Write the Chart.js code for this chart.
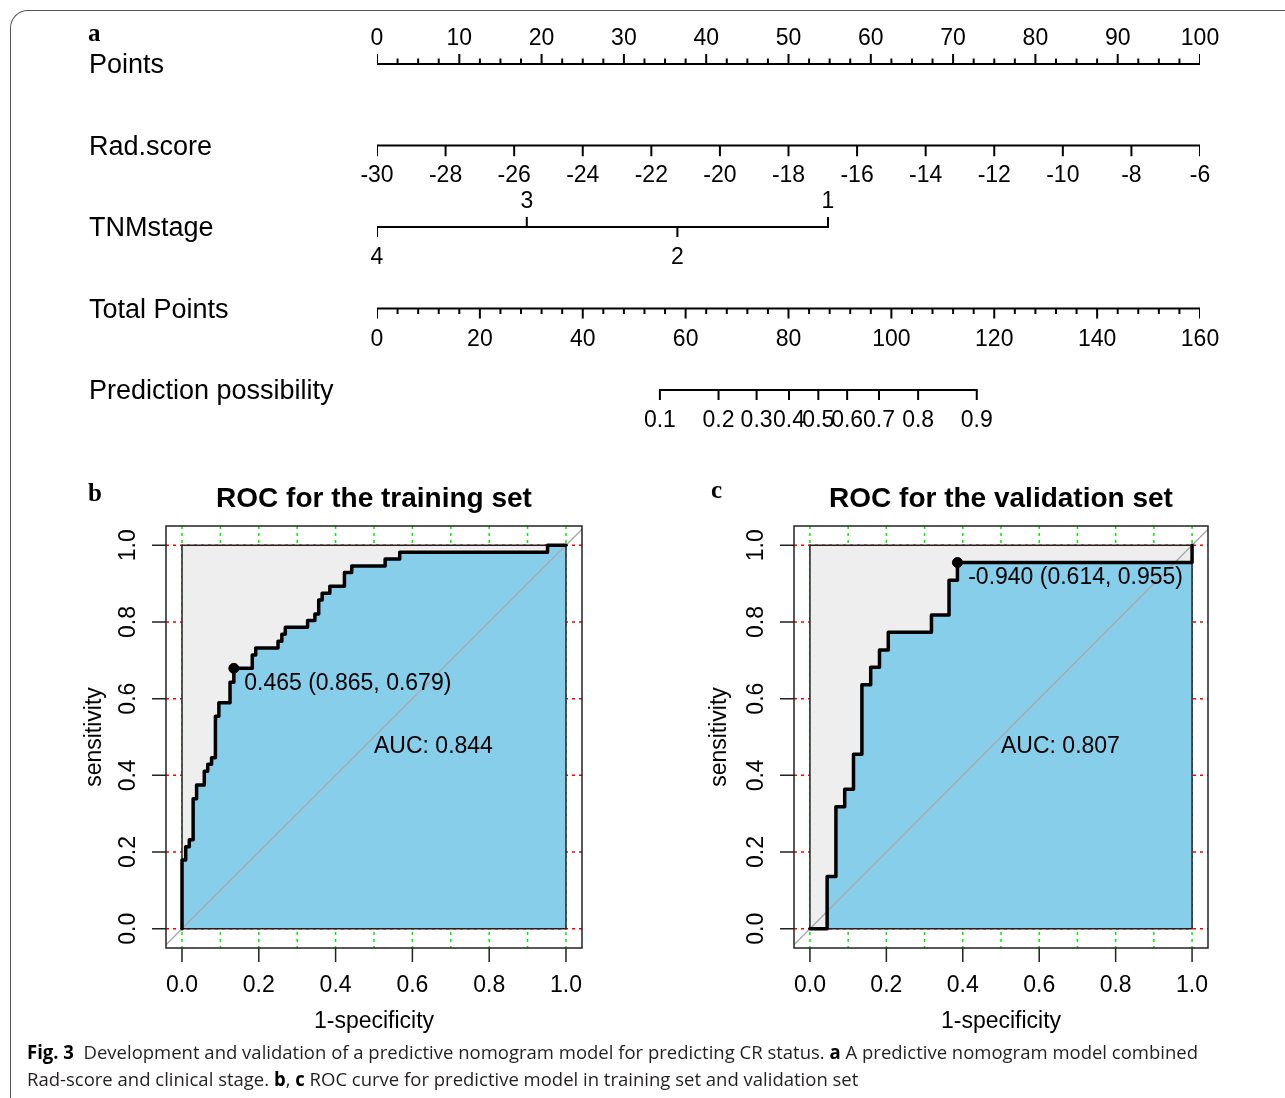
<!DOCTYPE html>
<html>
<head>
<meta charset="utf-8">
<script src="https://cdn.jsdelivr.net/npm/chart.js@4.4.1/dist/chart.umd.min.js"></script>
<style>
  html, body { margin: 0; padding: 0; background: #fff; }
  body { width: 1285px; height: 1098px; position: relative; overflow: hidden; }
  .frame { position: absolute; left: 10px; top: 10px; width: 1300px; height: 1200px;
    border-left: 1px solid #555; border-top: 1px solid #555; border-top-left-radius: 18px; }
  canvas { position: absolute; }
  #nomo { left: 0; top: 0; }
  #rocB { left: 60px; top: 460px; }
  #rocC { left: 690px; top: 460px; }
  .letter { position: absolute; font-family: "Liberation Serif", "DejaVu Serif", serif;
    font-weight: bold; font-size: 25px; line-height: 25px; color: #000; }
  .caption { position: absolute; left: 27px; top: 1039px; font-family: "Liberation Sans Narrow", "Open Sans", sans-serif;
    font-size: 19px; line-height: 27px; color: #231f20; white-space: nowrap; transform-origin: 0 0; }
  .caption b { color: #000; }
</style>
</head>
<body>
<div class="frame"></div>
<canvas id="nomo" width="1285" height="460"></canvas>
<canvas id="rocB" width="560" height="580"></canvas>
<canvas id="rocC" width="590" height="580"></canvas>
<div class="letter" style="left:88px;top:20px">a</div>
<div class="letter" style="left:88px;top:480px">b</div>
<div class="letter" style="left:711px;top:477px">c</div>
<div class="caption" id="cap"><span id="capLine1"><b>Fig. 3</b>&nbsp; Development and validation of a predictive nomogram model for predicting CR status. <b>a</b> A predictive nomogram model combined</span><br>Rad-score and clinical stage. <b>b</b>, <b>c</b> ROC curve for predictive model in training set and validation set</div>
<script>
// ---- nomogram (panel a) ----
const rowNames = ['Points', 'Rad.score', 'TNMstage', 'Total Points', 'Prediction possibility'];
const pointsTicks = [0, 10, 20, 30, 40, 50, 60, 70, 80, 90, 100];
const radTicks = [-30, -28, -26, -24, -22, -20, -18, -16, -14, -12, -10, -8, -6];
const radEnds = [-30, -6];            // rad.score values at 0 and 100 points
const tnmStages = ['4', '3', '2', '1'];
const tnmPoints = [0, 18.2, 36.5, 54.8];
const tnmAbove = [false, true, false, true];
const totalTicks = [0, 20, 40, 60, 80, 100, 120, 140, 160];
const totalMax = 160;
const probTicks = ['0.1', '0.2', '0.3', '0.4', '0.5', '0.6', '0.7', '0.8', '0.9'];
const probTotalPoints = [55.0, 66.4, 73.8, 80.1, 85.8, 91.4, 97.6, 105.2, 116.6];

// ---- ROC curves (panels b, c): x = 1-specificity where sensitivity steps up ----
const trainFpr = [0, 0.0096, 0.019, 0.029, 0.038, 0.058, 0.067, 0.077, 0.087, 0.096, 0.125, 0.135, 0.183,
  0.192, 0.250, 0.260, 0.269, 0.327, 0.346, 0.356, 0.365, 0.385, 0.423, 0.442, 0.529, 0.567, 0.952];
const trainTpr = [0.179, 0.214, 0.232, 0.339, 0.375, 0.411, 0.429, 0.446, 0.554, 0.589, 0.643, 0.679, 0.714,
  0.732, 0.750, 0.768, 0.786, 0.804, 0.821, 0.857, 0.875, 0.893, 0.929, 0.946, 0.964, 0.982, 1.000];
const validFpr = [0.045, 0.068, 0.091, 0.114, 0.136, 0.159, 0.182, 0.205, 0.318, 0.364, 0.386, 1.000];
const validTpr = [0.136, 0.318, 0.364, 0.455, 0.636, 0.682, 0.727, 0.773, 0.818, 0.909, 0.955, 1.000];
const trainThres = { cut: '0.465', spec: 0.865, sens: 0.679 };
const validThres = { cut: '-0.940', spec: 0.614, sens: 0.955 };
const trainAuc = '0.844';
const validAuc = '0.807';
const rocXTicks = [0, 0.2, 0.4, 0.6, 0.8, 1.0];
const rocYTicks = [0, 0.2, 0.4, 0.6, 0.8, 1.0];
const rocXGrid = [0, 0.1, 0.2, 0.3, 0.4, 0.5, 0.6, 0.7, 0.8, 0.9, 1.0];

const FONT = '"Liberation Sans", Arial, sans-serif';
const DY = 2; // canvas 'middle' baseline sits a little high
Chart.defaults.font.family = FONT;
Chart.defaults.color = '#000';

// build one nomogram row: axis line plus tick segments, separated by gaps
const MAJOR = 0.11, MINOR = 0.055;
function buildRow(row, ticks) {
  const ps = ticks.map(t => t.p);
  const data = [{ x: Math.min(...ps), y: row }, { x: Math.max(...ps), y: row }, { x: 0, y: null }];
  ticks.forEach(t => {
    data.push({ x: t.p, y: row }, { x: t.p, y: row + t.dir * t.len }, { x: t.p, y: null });
  });
  return data;
}

const rows = [];
// Points
{
  const ticks = [], labels = [];
  pointsTicks.forEach((v, i) => {
    ticks.push({ p: v, len: MAJOR, dir: -1 });
    labels.push({ p: v, text: String(v), off: -27 });
    if (i < pointsTicks.length - 1) {
      const step = (pointsTicks[i + 1] - v) / 4;
      for (let k = 1; k < 4; k++) ticks.push({ p: v + k * step, len: MINOR, dir: -1 });
    }
  });
  rows.push({ ticks, labels });
}
// Rad.score
{
  const toP = v => (v - radEnds[0]) / (radEnds[1] - radEnds[0]) * 100;
  rows.push({
    ticks: radTicks.map(v => ({ p: toP(v), len: 0.12, dir: 1 })),
    labels: radTicks.map(v => ({ p: toP(v), text: String(v), off: 28.5 }))
  });
}
// TNMstage
rows.push({
  ticks: tnmPoints.map((p, i) => ({ p, len: MAJOR, dir: tnmAbove[i] ? -1 : 1 })),
  labels: tnmPoints.map((p, i) => ({ p, text: tnmStages[i], off: tnmAbove[i] ? -27 : 29 }))
});
// Total Points
{
  const ticks = [], labels = [];
  totalTicks.forEach((v, i) => {
    ticks.push({ p: v / totalMax * 100, len: MAJOR, dir: 1 });
    labels.push({ p: v / totalMax * 100, text: String(v), off: 29 });
    if (i < totalTicks.length - 1) {
      const step = (totalTicks[i + 1] - v) / 5;
      for (let k = 1; k < 5; k++) ticks.push({ p: (v + k * step) / totalMax * 100, len: MINOR, dir: 1 });
    }
  });
  rows.push({ ticks, labels });
}
// Prediction possibility
rows.push({
  ticks: probTotalPoints.map(v => ({ p: v / totalMax * 100, len: MAJOR, dir: 1 })),
  labels: probTotalPoints.map((v, i) => ({ p: v / totalMax * 100, text: probTicks[i], off: 29 }))
});

const nomoLabels = {
  id: 'nomoLabels',
  afterDatasetsDraw(chart) {
    const { ctx, scales: { x, y } } = chart;
    ctx.save();
    ctx.fillStyle = '#000';
    ctx.textBaseline = 'middle';
    rowNames.forEach((name, r) => {
      ctx.font = '27px ' + FONT;
      ctx.textAlign = 'left';
      ctx.fillText(name, 89, y.getPixelForValue(r) + DY);
      ctx.font = '23px ' + FONT;
      ctx.textAlign = 'center';
      rows[r].labels.forEach(l => {
        ctx.fillText(l.text, x.getPixelForValue(l.p), y.getPixelForValue(r) + l.off + DY);
      });
    });
    ctx.restore();
  }
};

new Chart(document.getElementById('nomo'), {
  type: 'scatter',
  data: {
    datasets: rows.map((r, i) => ({
      data: buildRow(i, r.ticks),
      showLine: true,
      spanGaps: false,
      borderColor: '#000',
      borderWidth: 2,
      pointRadius: 0,
      borderCapStyle: 'square'
    }))
  },
  options: {
    responsive: false,
    animation: false,
    layout: { padding: { left: 377, right: 85, top: 23.25, bottom: 29.25 } },
    plugins: { legend: { display: false }, tooltip: { enabled: false } },
    scales: {
      x: { type: 'linear', min: 0, max: 100, display: false },
      y: { type: 'linear', min: -0.5, max: 4.5, reverse: true, display: false }
    }
  },
  plugins: [nomoLabels]
});

// ---- ROC panels ----
function stepCurve(fpr, tpr) {
  const pts = [{ x: 0, y: 0 }];
  let prev = 0;
  fpr.forEach((fx, i) => {
    pts.push({ x: fx, y: prev }, { x: fx, y: tpr[i] });
    prev = tpr[i];
  });
  const last = pts[pts.length - 1];
  if (last.x < 1) pts.push({ x: 1, y: prev });
  return pts;
}

const rocDecor = {
  id: 'rocDecor',
  beforeDatasetsDraw(chart) {
    const { ctx, chartArea: a, scales: { x, y } } = chart;
    ctx.save();
    ctx.lineWidth = 1.5;
    ctx.setLineDash([3, 4]);
    ctx.strokeStyle = '#ff0000';
    rocYTicks.forEach(v => {
      const py = y.getPixelForValue(v);
      ctx.beginPath(); ctx.moveTo(a.left, py); ctx.lineTo(a.right, py); ctx.stroke();
    });
    ctx.strokeStyle = '#00ee00';
    rocXGrid.forEach(v => {
      const px = x.getPixelForValue(v);
      ctx.beginPath(); ctx.moveTo(px, a.top); ctx.lineTo(px, a.bottom); ctx.stroke();
    });
    ctx.restore();
  },
  afterDatasetsDraw(chart, args, opts) {
    const { ctx, chartArea: a, scales: { x, y } } = chart;
    ctx.save();
    // box and ticks
    ctx.strokeStyle = '#222';
    ctx.lineWidth = 1.5;
    ctx.strokeRect(a.left, a.top, a.right - a.left, a.bottom - a.top);
    ctx.beginPath();
    rocYTicks.forEach(v => {
      const py = y.getPixelForValue(v);
      ctx.moveTo(a.left, py); ctx.lineTo(a.left - 14, py);
    });
    rocXTicks.forEach(v => {
      const px = x.getPixelForValue(v);
      ctx.moveTo(px, a.bottom); ctx.lineTo(px, a.bottom + 14);
    });
    ctx.stroke();

    ctx.fillStyle = '#000';
    ctx.textBaseline = 'middle';
    ctx.font = '23px ' + FONT;
    ctx.textAlign = 'center';
    rocXTicks.forEach(v => ctx.fillText(v.toFixed(1), x.getPixelForValue(v), a.bottom + 36 + DY));
    ctx.fillText('1-specificity', (a.left + a.right) / 2, a.bottom + 72 + DY);
    rocYTicks.forEach(v => {
      ctx.save();
      ctx.translate(a.left - 35 - DY, y.getPixelForValue(v));
      ctx.rotate(-Math.PI / 2);
      ctx.fillText(v.toFixed(1), 0, 0);
      ctx.restore();
    });
    ctx.save();
    ctx.translate(a.left - opts.yTitleOffset - DY, (a.top + a.bottom) / 2);
    ctx.rotate(-Math.PI / 2);
    ctx.fillText('sensitivity', 0, 0);
    ctx.restore();

    // title
    ctx.font = 'bold 28px ' + FONT;
    ctx.fillText(opts.title, (a.left + a.right) / 2, a.top - 29 + DY);

    // AUC and threshold text
    ctx.font = '23px ' + FONT;
    ctx.textAlign = 'left';
    ctx.fillText('AUC: ' + opts.auc, x.getPixelForValue(0.5), y.getPixelForValue(0.5) + 8 + DY);
    const t = opts.thres;
    const label = t.cut + ' (' + t.spec.toFixed(3) + ', ' + t.sens.toFixed(3) + ')';
    const w = ctx.measureText(label).width;
    ctx.fillText(label, x.getPixelForValue(1 - t.spec) + 0.05 * w, y.getPixelForValue(t.sens) + 13 + DY);
    ctx.restore();
  }
};

function makeRoc(id, fpr, tpr, thres, auc, title, pad, yTitleOffset) {
  const curve = stepCurve(fpr, tpr);
  return new Chart(document.getElementById(id), {
    type: 'scatter',
    data: {
      datasets: [
        { // threshold point
          data: [{ x: 1 - thres.spec, y: thres.sens }],
          pointRadius: 5, pointBackgroundColor: '#000', pointBorderColor: '#000', order: 1
        },
        { // ROC curve
          data: curve, showLine: true, borderColor: '#000', borderWidth: 3.5, pointRadius: 0,
          borderJoinStyle: 'round', borderCapStyle: 'round', order: 2
        },
        { // identity line
          data: [{ x: -0.1, y: -0.1 }, { x: 1.1, y: 1.1 }], showLine: true,
          borderColor: '#aaaaaa', borderWidth: 1.5, pointRadius: 0, order: 3
        },
        { // outline of the max AUC area
          data: [{ x: 0, y: 0 }, { x: 0, y: 1 }, { x: 1, y: 1 }, { x: 1, y: 0 }, { x: 0, y: 0 }], showLine: true,
          borderColor: '#222', borderWidth: 1.5, pointRadius: 0, order: 4
        },
        { // AUC polygon
          data: curve, showLine: true, fill: 'origin', backgroundColor: '#87ceeb',
          borderWidth: 0, pointRadius: 0, order: 5
        },
        { // max AUC polygon
          data: [{ x: 0, y: 0 }, { x: 0, y: 1 }, { x: 1, y: 1 }, { x: 1, y: 0 }], showLine: true,
          fill: 'origin', backgroundColor: '#eeeeee', borderWidth: 0, pointRadius: 0, order: 6
        }
      ]
    },
    options: {
      responsive: false,
      animation: false,
      layout: { padding: pad },
      plugins: {
        legend: { display: false },
        tooltip: { enabled: false },
        rocDecor: { title, auc, thres, yTitleOffset }
      },
      scales: {
        x: { type: 'linear', min: -0.0417, max: 1.0417, display: false },
        y: { type: 'linear', min: -0.0503, max: 1.0503, display: false }
      }
    },
    plugins: [rocDecor]
  });
}

makeRoc('rocB', trainFpr, trainTpr, trainThres, trainAuc, 'ROC for the training set',
  { left: 106, right: 38, top: 66, bottom: 92 }, 69);
makeRoc('rocC', validFpr, validTpr, validThres, validAuc, 'ROC for the validation set',
  { left: 104, right: 72, top: 66, bottom: 92 }, 72);

// fit the caption's first line to the figure width
const cap = document.getElementById('cap');
const l1 = document.getElementById('capLine1');
const sx = 1171 / l1.getBoundingClientRect().width;
cap.style.transform = 'scaleX(' + sx + ')';
</script>
</body>
</html>
